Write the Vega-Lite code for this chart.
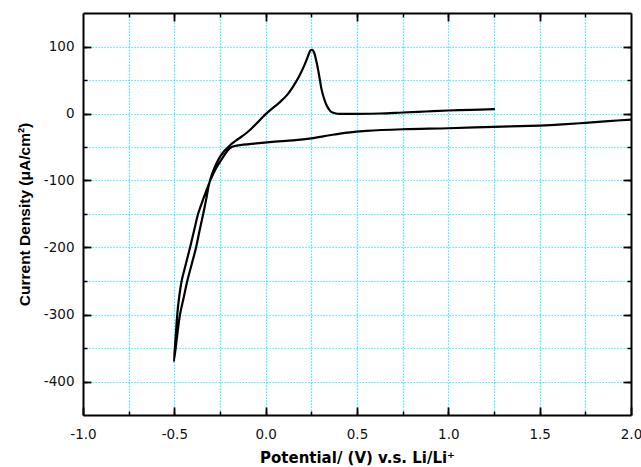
{
  "$schema": "https://vega.github.io/schema/vega-lite/v6.json",
  "width": 548,
  "height": 402,
  "autosize": {"type": "none"},
  "padding": {"left": 83, "top": 13, "right": 10, "bottom": 52},
  "background": "white",
  "config": {
    "view": {"stroke": null},
    "axis": {
      "labelFont": "DejaVu Sans",
      "labelFontSize": 13.5,
      "labelColor": "#111",
      "titleFont": "DejaVu Sans",
      "titleFontSize": 15,
      "titleFontWeight": "bold",
      "titleColor": "#000",
      "tickColor": "#000",
      "domainColor": "#000"
    }
  },
  "data": {
    "values": [
      {"i": 1, "v": 2.0, "j": -9},
      {"i": 2, "v": 1.875, "j": -11.5},
      {"i": 3, "v": 1.75, "j": -14},
      {"i": 4, "v": 1.625, "j": -16.3},
      {"i": 5, "v": 1.5, "j": -18},
      {"i": 6, "v": 1.25, "j": -20},
      {"i": 7, "v": 1.0, "j": -22},
      {"i": 8, "v": 0.75, "j": -23.5},
      {"i": 9, "v": 0.55, "j": -26},
      {"i": 10, "v": 0.45, "j": -28.5},
      {"i": 11, "v": 0.35, "j": -32.5},
      {"i": 12, "v": 0.25, "j": -37},
      {"i": 13, "v": 0.15, "j": -40},
      {"i": 14, "v": 0.05, "j": -42},
      {"i": 15, "v": -0.05, "j": -44.5},
      {"i": 16, "v": -0.15, "j": -47.5},
      {"i": 17, "v": -0.186, "j": -50},
      {"i": 18, "v": -0.21, "j": -56},
      {"i": 19, "v": -0.24, "j": -68},
      {"i": 20, "v": -0.27, "j": -81},
      {"i": 21, "v": -0.3, "j": -98},
      {"i": 22, "v": -0.33, "j": -119},
      {"i": 23, "v": -0.35, "j": -134},
      {"i": 24, "v": -0.37, "j": -150},
      {"i": 25, "v": -0.392, "j": -175},
      {"i": 26, "v": -0.414, "j": -200},
      {"i": 27, "v": -0.44, "j": -228},
      {"i": 28, "v": -0.46, "j": -250},
      {"i": 29, "v": -0.474, "j": -275},
      {"i": 30, "v": -0.484, "j": -300},
      {"i": 31, "v": -0.493, "j": -335},
      {"i": 32, "v": -0.502, "j": -370},
      {"i": 33, "v": -0.486, "j": -335},
      {"i": 34, "v": -0.469, "j": -300},
      {"i": 35, "v": -0.449, "j": -275},
      {"i": 36, "v": -0.429, "j": -250},
      {"i": 37, "v": -0.405, "j": -225},
      {"i": 38, "v": -0.381, "j": -200},
      {"i": 39, "v": -0.362, "j": -175},
      {"i": 40, "v": -0.342, "j": -150},
      {"i": 41, "v": -0.327, "j": -130},
      {"i": 42, "v": -0.305, "j": -100},
      {"i": 43, "v": -0.28, "j": -81},
      {"i": 44, "v": -0.255, "j": -67},
      {"i": 45, "v": -0.23, "j": -57},
      {"i": 46, "v": -0.205, "j": -50},
      {"i": 47, "v": -0.18, "j": -44},
      {"i": 48, "v": -0.15, "j": -38},
      {"i": 49, "v": -0.1, "j": -28},
      {"i": 50, "v": -0.05, "j": -15},
      {"i": 51, "v": 0.0, "j": -1},
      {"i": 52, "v": 0.04, "j": 8.5},
      {"i": 53, "v": 0.078, "j": 17},
      {"i": 54, "v": 0.12, "j": 28.5},
      {"i": 55, "v": 0.17, "j": 49},
      {"i": 56, "v": 0.195, "j": 62},
      {"i": 57, "v": 0.215, "j": 74},
      {"i": 58, "v": 0.235, "j": 88},
      {"i": 59, "v": 0.245, "j": 94},
      {"i": 60, "v": 0.255, "j": 95},
      {"i": 61, "v": 0.265, "j": 91},
      {"i": 62, "v": 0.279, "j": 76},
      {"i": 63, "v": 0.288, "j": 64},
      {"i": 64, "v": 0.297, "j": 50},
      {"i": 65, "v": 0.306, "j": 36},
      {"i": 66, "v": 0.32, "j": 22},
      {"i": 67, "v": 0.334, "j": 12},
      {"i": 68, "v": 0.35, "j": 5},
      {"i": 69, "v": 0.361, "j": 2},
      {"i": 70, "v": 0.385, "j": 0},
      {"i": 71, "v": 0.407, "j": -0.5},
      {"i": 72, "v": 0.5, "j": -0.5},
      {"i": 73, "v": 0.626, "j": 0},
      {"i": 74, "v": 0.75, "j": 1.5},
      {"i": 75, "v": 0.875, "j": 3},
      {"i": 76, "v": 1.0, "j": 4.5},
      {"i": 77, "v": 1.125, "j": 5.5},
      {"i": 78, "v": 1.25, "j": 6.4}
    ]
  },
  "resolve": {"axis": {"x": "independent", "y": "independent"}},
  "layer": [
    {
      "mark": {"type": "line", "strokeOpacity": 0},
      "encoding": {
        "x": {"field": "v", "type": "quantitative", "scale": {"domain": [-1, 2], "nice": false, "zero": false},
          "axis": {"orient": "bottom", "values": [-0.75, -0.5, -0.25, 0, 0.25, 0.5, 0.75, 1, 1.25, 1.5, 1.75], "labels": false, "title": null, "domain": false, "tickSize": -4, "tickWidth": 1.5, "grid": true, "gridColor": "#00f2ff", "gridDash": [1.2, 1.8], "gridWidth": 1.2}},
        "y": {"field": "j", "type": "quantitative", "scale": {"domain": [-450, 150], "nice": false, "zero": false},
          "axis": {"orient": "left", "values": [-400, -350, -300, -250, -200, -150, -100, -50, 0, 50, 100], "labels": false, "title": null, "domain": false, "tickSize": -4, "tickWidth": 1.5, "grid": true, "gridColor": "#00f2ff", "gridDash": [1.2, 1.8], "gridWidth": 1.2}},
        "order": {"field": "i", "type": "quantitative"}
      }
    },
    {
      "mark": {"type": "line", "strokeOpacity": 0},
      "encoding": {
        "x": {"field": "v", "type": "quantitative",
          "axis": {"orient": "top", "values": [-0.75, -0.5, -0.25, 0, 0.25, 0.5, 0.75, 1, 1.25, 1.5, 1.75], "labels": false, "title": null, "domain": false, "tickSize": -4, "tickWidth": 1.5, "grid": false}},
        "y": {"field": "j", "type": "quantitative",
          "axis": {"orient": "right", "values": [-400, -350, -300, -250, -200, -150, -100, -50, 0, 50, 100], "labels": false, "title": null, "domain": false, "tickSize": -4, "tickWidth": 1.5, "grid": false}},
        "order": {"field": "i", "type": "quantitative"}
      }
    },
    {
      "mark": {"type": "line", "strokeOpacity": 0},
      "encoding": {
        "x": {"field": "v", "type": "quantitative",
          "axis": {"orient": "top", "values": [-0.5, 0, 0.5, 1, 1.5], "labels": false, "title": null, "domain": true, "domainWidth": 2, "tickSize": -8, "tickWidth": 1.8, "grid": false}},
        "y": {"field": "j", "type": "quantitative",
          "axis": {"orient": "right", "values": [-400, -300, -200, -100, 0, 100], "labels": false, "title": null, "domain": true, "domainWidth": 2, "tickSize": -8, "tickWidth": 1.8, "grid": false}},
        "order": {"field": "i", "type": "quantitative"}
      }
    },
    {
      "mark": {"type": "line", "color": "#000", "strokeWidth": 2.2, "strokeJoin": "round", "strokeCap": "round", "interpolate": "catmull-rom"},
      "encoding": {
        "x": {"field": "v", "type": "quantitative",
          "axis": {"orient": "bottom", "values": [-1, -0.5, 0, 0.5, 1, 1.5, 2], "format": ".1f", "labelExpr": "replace(datum.label, '−', '-')", "labelPadding": 20, "labelFlush": false, "title": "Potential/ (V) v.s. Li/Li⁺", "titleY": 47, "titleBaseline": "alphabetic", "domain": true, "domainWidth": 2, "tickSize": -8, "tickWidth": 1.8, "grid": false}},
        "y": {"field": "j", "type": "quantitative",
          "axis": {"orient": "left", "values": [-400, -300, -200, -100, 0, 100], "format": "d", "labelExpr": "replace(datum.label, '−', '-')", "labelPadding": 17, "title": "Current Density (μA/cm²)", "titleFont": "Liberation Sans", "titleFontSize": 15.5, "titleX": -54, "titleBaseline": "alphabetic", "domain": true, "domainWidth": 2, "tickSize": -8, "tickWidth": 1.8, "grid": false}},
        "order": {"field": "i", "type": "quantitative"}
      }
    }
  ]
}
